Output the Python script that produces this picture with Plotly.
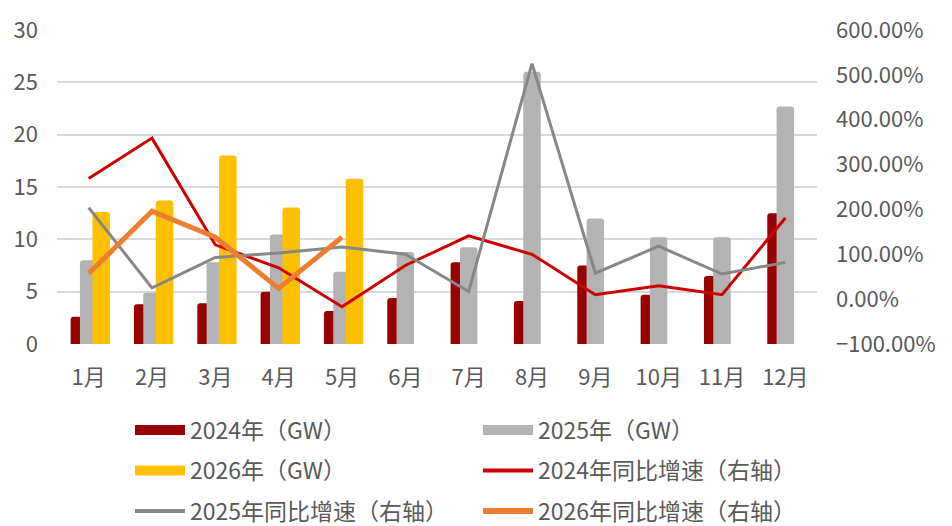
import plotly.graph_objects as go

# Monthly installations (GW) and year-on-year growth
months = ["1月", "2月", "3月", "4月", "5月", "6月", "7月", "8月", "9月", "10月", "11月", "12月"]
gw_2024 = [2.6, 3.8, 3.9, 5.0, 3.15, 4.4, 7.8, 4.1, 7.5, 4.7, 6.5, 12.5]
gw_2025 = [8.0, 4.9, 7.8, 10.45, 6.9, 8.8, 9.25, 26.0, 12.0, 10.2, 10.2, 22.7]
gw_2026 = [12.6, 13.7, 18.0, 13.05, 15.8]
yoy_2024 = [2.69, 3.59, 1.21, 0.70, -0.17, 0.75, 1.41, 1.00, 0.10, 0.30, 0.10, 1.81]
yoy_2025 = [2.04, 0.25, 0.93, 1.03, 1.16, 1.00, 0.17, 5.25, 0.58, 1.18, 0.56, 0.82]
yoy_2026 = [0.57, 1.96, 1.38, 0.24, 1.38]

name_bar_24 = "2024年（GW）"
name_bar_25 = "2025年（GW）"
name_bar_26 = "2026年（GW）"
name_yoy_24 = "2024年同比增速（右轴）"
name_yoy_25 = "2025年同比增速（右轴）"
name_yoy_26 = "2026年同比增速（右轴）"

C_24 = "#990000"
C_25 = "#B3B3B3"
C_26 = "#FFC000"
C_L24 = "#CC0000"
C_L25 = "#878787"
C_L26 = "#ED7D31"
TXT = "#595959"
FONT = "Noto Sans CJK SC"

BAR_W = 0.276

fig = go.Figure()

# clustered bars with partial overlap
for vals, col, off in [(gw_2024, C_24, -0.285), (gw_2025, C_25, -0.138), (gw_2026, C_26, 0.06)]:
    fig.add_trace(go.Bar(
        x=months[:len(vals)], y=vals, width=BAR_W, offset=off,
        marker=dict(color=col, line=dict(width=0), cornerradius=3),
        showlegend=False, yaxis="y",
    ))

# growth lines on the secondary axis
for vals, col, lw in [(yoy_2024, C_L24, 3), (yoy_2025, C_L25, 3), (yoy_2026, C_L26, 5)]:
    fig.add_trace(go.Scatter(
        x=months[:len(vals)], y=vals, mode="lines",
        line=dict(color=col, width=lw), showlegend=False, yaxis="y2",
    ))

# legend entries, two per row
legend_rows = [
    ("legend", [(name_bar_24, C_24, 13), (name_bar_25, C_25, 13)]),
    ("legend2", [(name_bar_26, C_26, 13), (name_yoy_24, C_L24, 4)]),
    ("legend3", [(name_yoy_25, C_L25, 4), (name_yoy_26, C_L26, 6)]),
]
for lg, items in legend_rows:
    for nm, col, lw in items:
        fig.add_trace(go.Scatter(
            x=[None], y=[None], mode="lines", name=nm,
            line=dict(color=col, width=lw), legend=lg, yaxis="y",
        ))

row_y = [430, 470.5, 511]
legend_common = dict(
    orientation="h", xref="container", yref="container",
    x=130 / 952, xanchor="left", yanchor="middle",
    entrywidth=283, entrywidthmode="pixels",
    font=dict(family=FONT, size=23, color=TXT),
    bgcolor="rgba(0,0,0,0)", itemwidth=50,
)

fig.update_layout(
    width=952, height=526,
    margin=dict(l=57, r=135, t=21, b=182),
    paper_bgcolor="white", plot_bgcolor="white",
    barmode="overlay",
    font=dict(family=FONT, color=TXT),
    xaxis=dict(
        type="category", categoryorder="array", categoryarray=months,
        range=[-0.5, 11.5], showgrid=False, zeroline=False, showline=False,
        ticks="", tickfont=dict(size=22, color=TXT), ticklabelstandoff=18,
    ),
    yaxis=dict(
        range=[0, 30], dtick=5, showgrid=True, gridcolor="#D9D9D9", gridwidth=1.5,
        zeroline=False, showline=False, ticks="",
        tickfont=dict(size=22, color=TXT), ticklabelstandoff=18,
    ),
    yaxis2=dict(
        overlaying="y", side="right", range=[-1, 6], dtick=1, tickformat=".2%",
        showgrid=False, zeroline=False, showline=False, ticks="",
        tickfont=dict(size=22, color=TXT), ticklabelstandoff=18,
    ),
    legend=dict(legend_common, y=1 - row_y[0] / 526),
    legend2=dict(legend_common, y=1 - row_y[1] / 526),
    legend3=dict(legend_common, y=1 - row_y[2] / 526),
)

fig.write_html("out.html")
